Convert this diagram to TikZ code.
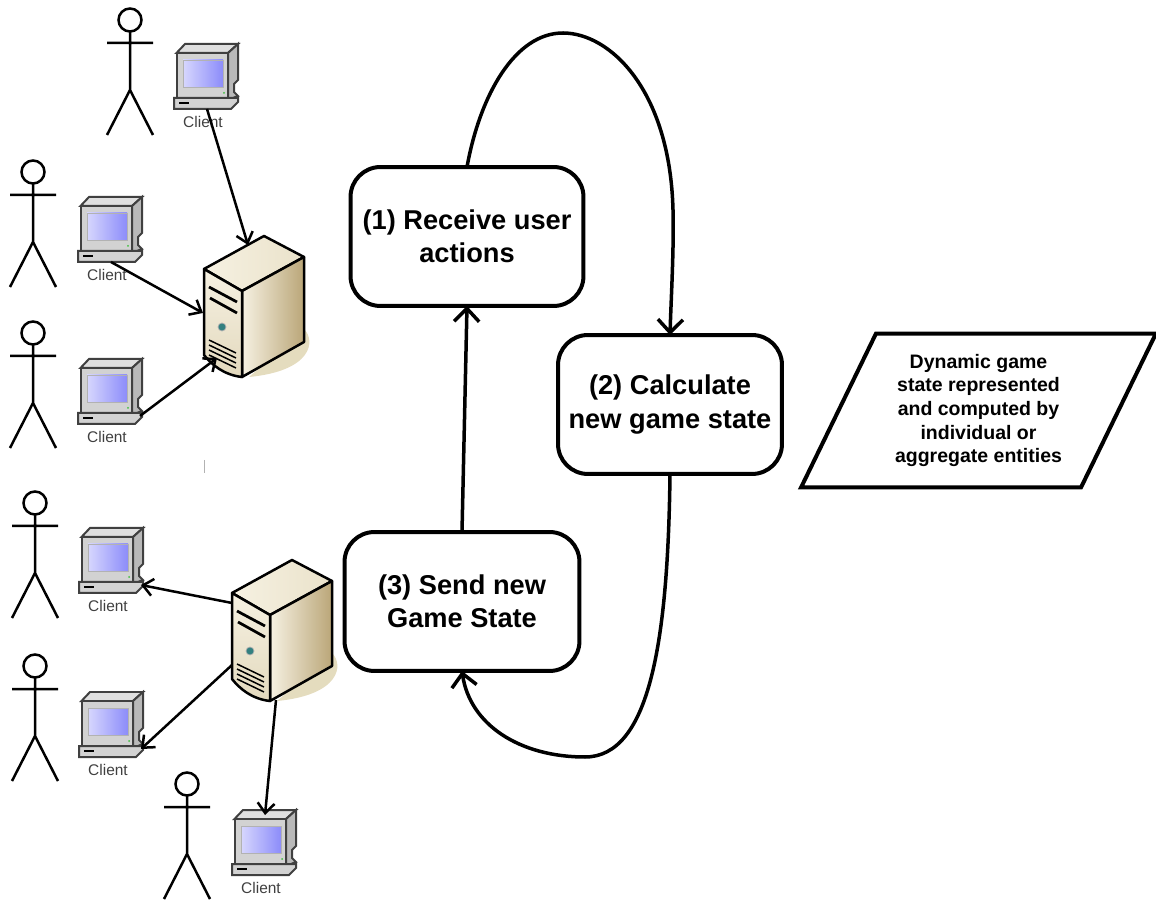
\documentclass[tikz,border=0pt]{standalone}
\usepackage{fontspec}
\setmainfont{Liberation Sans}
\usetikzlibrary{arrows.meta,shapes.geometric}
\definecolor{caselight}{RGB}{246,241,226}
\definecolor{caseback}{RGB}{234,226,202}
\definecolor{casedark}{RGB}{186,166,120}
\definecolor{shadowtan}{RGB}{228,220,190}
\definecolor{screenblue}{RGB}{140,140,250}
\tikzset{
  smallarrow/.style={line width=.05cm,-{Straight Barb[length=.2cm,width=.34cm]}},
  bigarrow/.style={line width=.07cm,-{Straight Barb[length=.26cm,width=.5cm]}},
  stepbox/.style={draw,line width=.08cm,rounded corners=.6cm,align=center,outer sep=0pt,
    minimum width=4.66cm,minimum height=2.78cm,font=\fontsize{15.5}{19}\bfseries\selectfont},
  pics/person/.style={code={
    \draw[line width=.05cm] (0,0) circle (.23cm);
    \draw[line width=.05cm] (0,12) -- (0,70) (-23,23) -- (23,23) (-23,115) -- (0,70) -- (23,115);
  }},
  pics/client/.style={code={
    \draw[line width=.04cm,draw=black!75,fill=gray!25] (2.5,9) -- (11,0) -- (64,0) -- (54,9) -- cycle;
    \draw[line width=.04cm,draw=black!75,fill=gray!55] (54,9) -- (64,0) -- (64,36) -- (60,40) -- (60,48) -- (64,52) -- (54,56) -- cycle;
    \draw[line width=.04cm,draw=black!75,fill=gray!35] (2.5,9) rectangle (54,54);
    \shade[left color=screenblue!35,right color=screenblue,draw=gray!60] (9,16) rectangle (49,43);
    \draw[line width=.04cm,draw=black!75,fill=gray!35] (0,54) -- (64,54) -- (64,58) -- (57,65) -- (0,65) -- cycle;
    \draw[line width=.04cm] (5,59) -- (15,59);
    \fill[green!50!gray] (50,49) circle (.02cm);
    \node[text=black!75,font=\fontsize{8.8}{10}\selectfont] (-label) at (29,78) {Client};
    \coordinate (-base) at (33,65);
    \coordinate (-side) at (62,57);
    \coordinate (-top) at (33,5);
  }},
  pics/server/.style={code={
    \fill[shadowtan] (100,60) .. controls (112,72) and (108,102) .. (45,108) -- cycle;
    \shade[left color=caselight,right color=caseback,draw=black,line width=.05cm,line join=round]
      (0,0) -- (60,-33) -- (100,-12) -- (38,22) -- cycle;
    \shade[left color=caselight,right color=casedark,draw=black,line width=.05cm,line join=round]
      (38,22) -- (100,-12) -- (100,73) -- (38,108) -- cycle;
    \shade[top color=caselight,bottom color=caseback!85!casedark,draw=black,line width=.05cm,line join=round]
      (0,0) -- (38,22) -- (38,108) .. controls (20,106) and (8,96) .. (0,86) -- cycle;
    \draw[line width=.055cm] (5,18) -- (33,33) (6,29) -- (33,44);
    \fill[teal!60!gray,draw=gray!60] (18,58) circle (.08cm);
    \foreach \vent in {0,5,10,15} {
      \draw[line width=.03cm] (5,71+\vent) -- (32,84+\vent);
    }
    \coordinate (-top) at (44,-24);
    \coordinate (-upper) at (0,10);
    \coordinate (-mid) at (-1,44);
    \coordinate (-lower) at (0,72);
    \coordinate (-front) at (13,89);
    \coordinate (-bottom) at (44,107);
  }},
}
\begin{document}
\begin{tikzpicture}[x=.02cm,y=-.02cm]
  \useasboundingbox (0,0) rectangle (1156,901);

  % 小人
  \foreach \name/\px/\py in {p1/130/20,p2/33/172,p3/33/333,p4/35/503,p5/35/666,p6/187/784} {
    \pic (\name) at (\px,\py) {person};
  }
  % 客户机
  \foreach \name/\px/\py in {c1/174/44,c2/78/197,c3/78/359,c4/79/528,c5/79/692,c6/232/810} {
    \pic (\name) at (\px,\py) {client};
  }
  % 服务器
  \pic (s1) at (204,269) {server};
  \pic (s2) at (232,593) {server};

  \draw[smallarrow] (c1-base) -- (s1-top);
  \draw[smallarrow] (c2-base) -- (s1-mid);
  \draw[smallarrow] (c3-side) -- (s1-front);
  \draw[smallarrow] (s2-upper) -- (c4-side);
  \draw[smallarrow] (s2-lower) -- (c5-side);
  \draw[smallarrow] (s2-bottom) -- (c6-top);

  \coordinate (tickA) at (204,460);
  \coordinate (tickB) at (204,473);
  \draw[gray!60,line width=.02cm] (tickA) -- (tickB);

  % 三个步骤
  \node[stepbox] (recv) at (467,236.5) {(1) Receive user\\actions};
  \node[stepbox,minimum width=4.48cm] (update) at (670,404.5) {(2) Calculate\\new game state};
  \node[stepbox,minimum width=4.7cm] (send) at (462,601.5) {(3) Send new\\Game State};
  \node[draw,trapezium,trapezium left angle=64,trapezium right angle=116,line width=.08cm,
    minimum width=7.1cm,minimum height=3.06cm,inner xsep=0pt,outer sep=0pt,align=center,
    font=\fontsize{11.1}{13.5}\bfseries\selectfont] (state) at (978.5,410.5)
    {Dynamic game\\state represented\\and computed by\\individual or\\aggregate entities};

  \draw[bigarrow] (send.north) -- (recv.south);
  \draw[bigarrow] (recv.north) .. controls (480,95) and (515,33) .. (563,33)
        .. controls (610,33) and (670,90) .. (673,210)
        .. controls (674,250) and (671,300) .. (update.north);
  \draw[bigarrow] (update.south) .. controls (668,640) and (650,757) .. (585,757)
        .. controls (520,757) and (470,725) .. (send.south);
\end{tikzpicture}
\end{document}
